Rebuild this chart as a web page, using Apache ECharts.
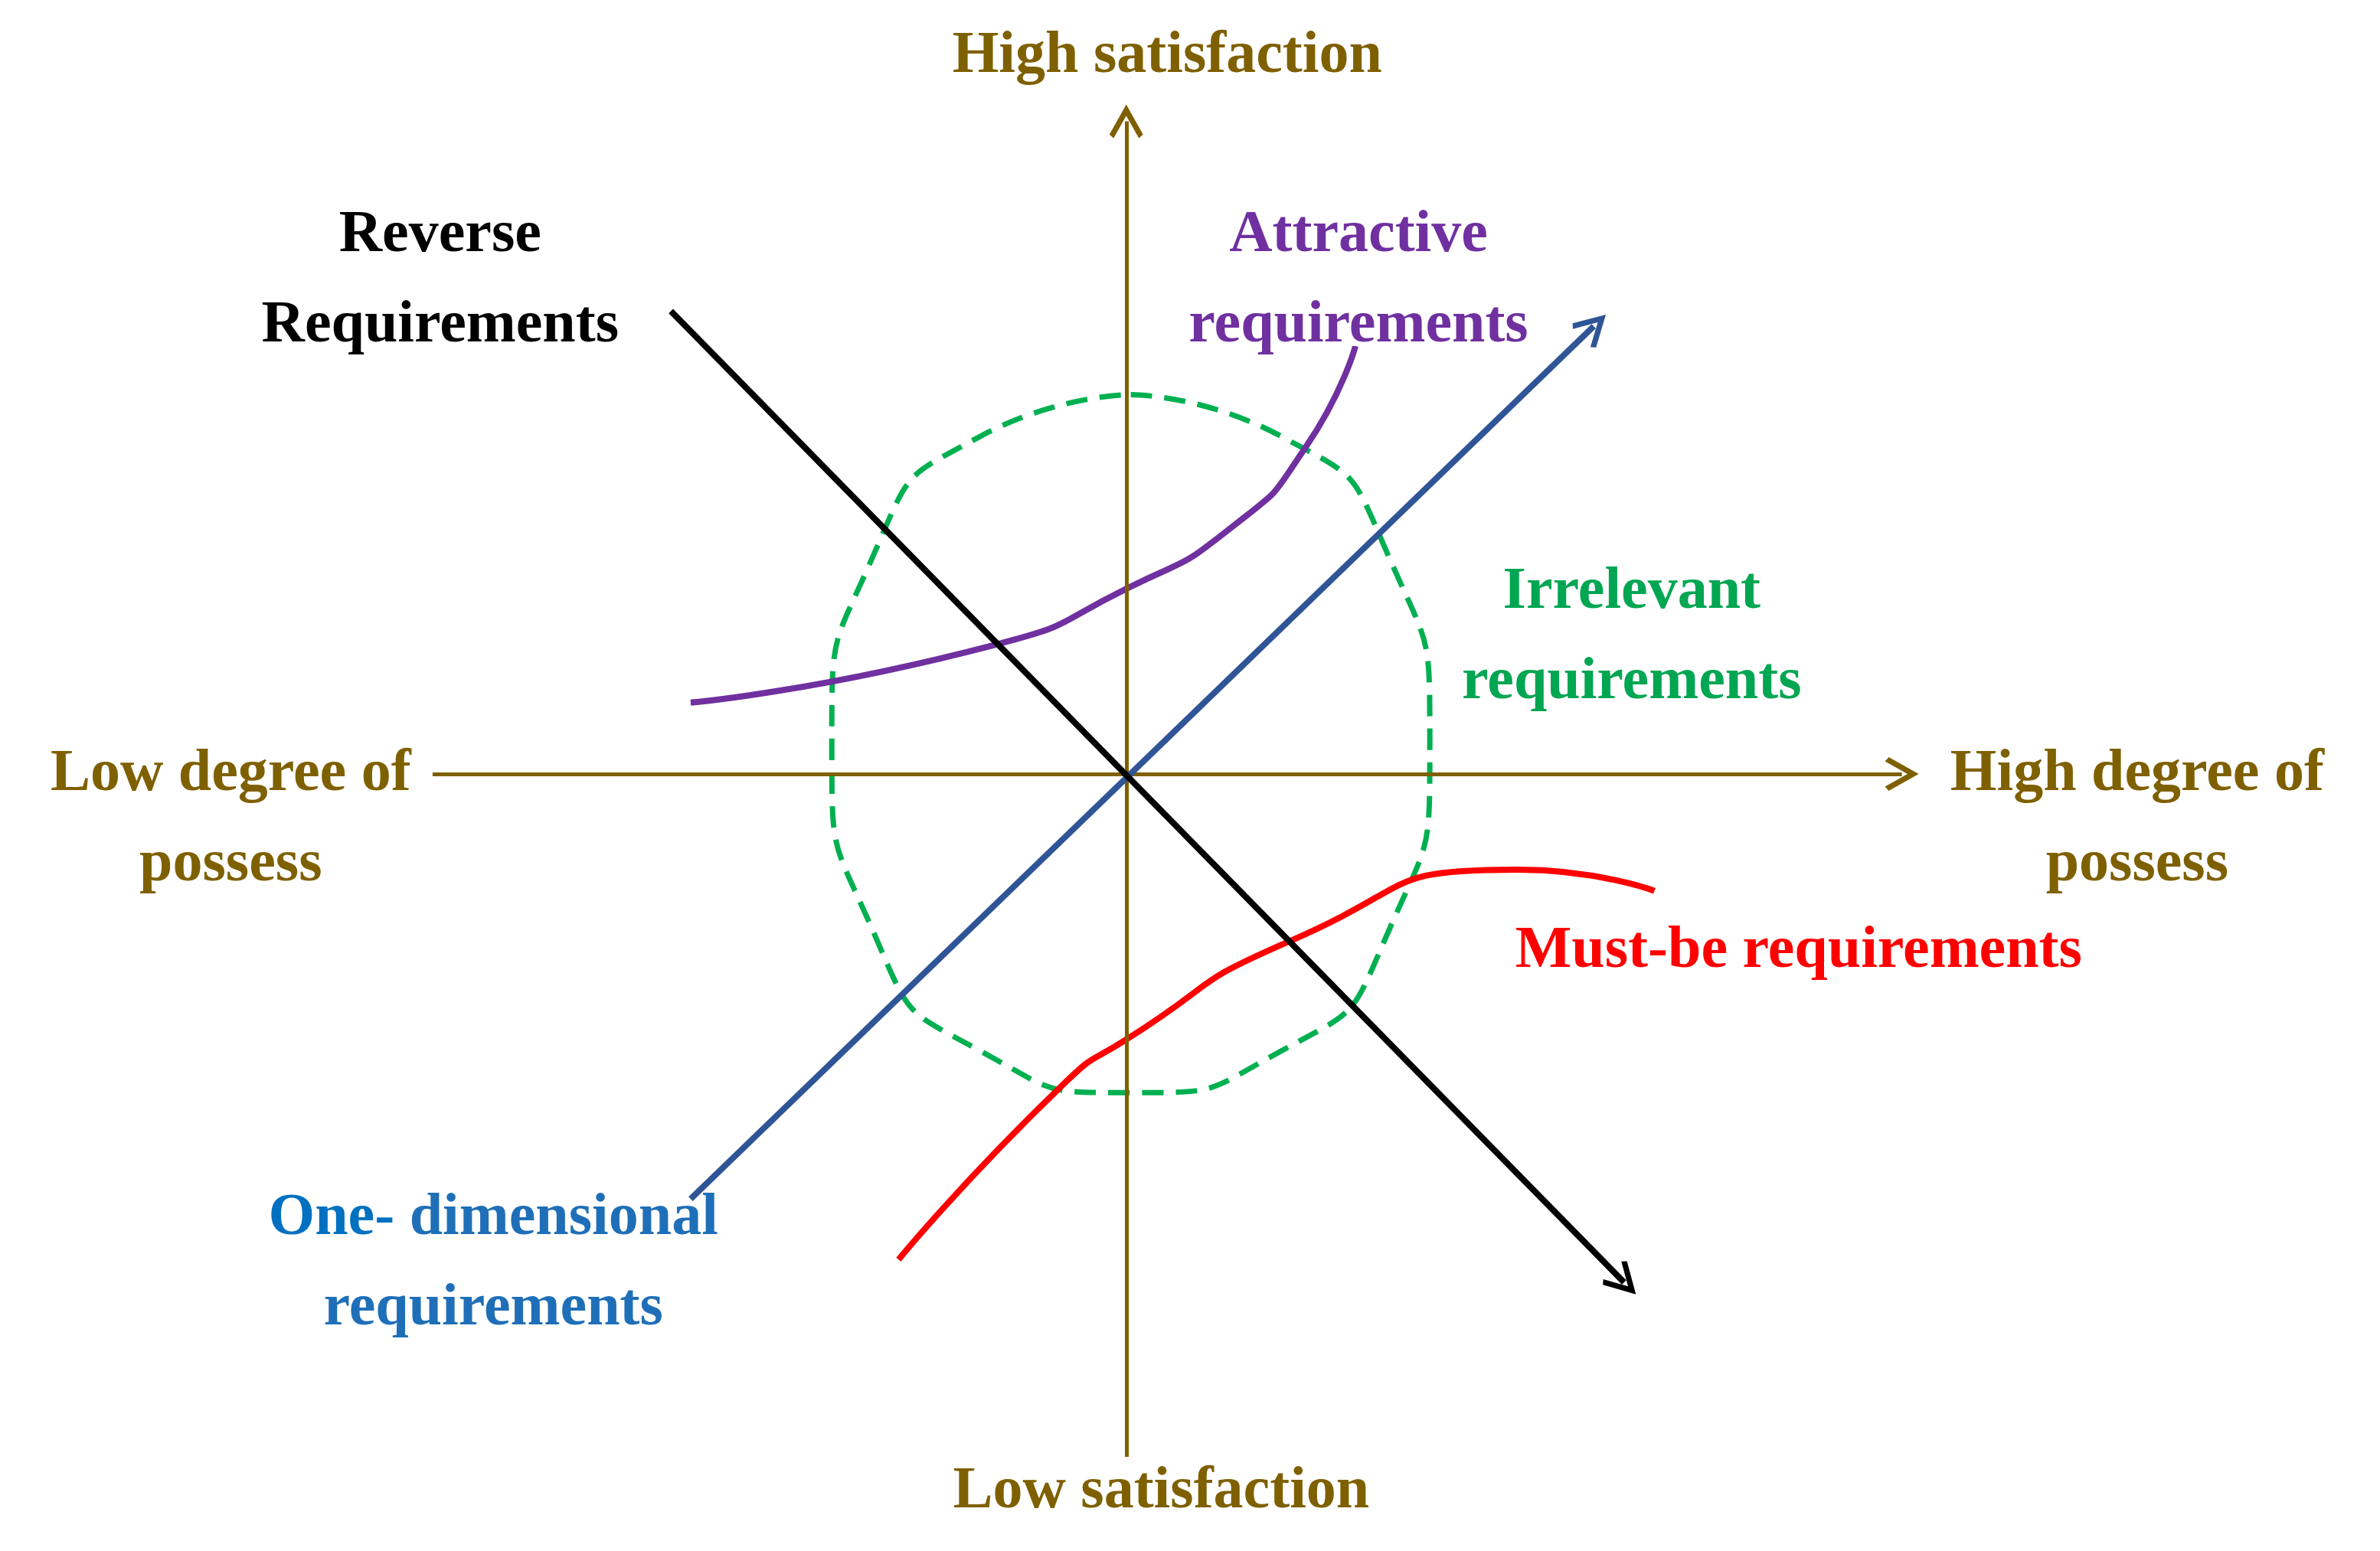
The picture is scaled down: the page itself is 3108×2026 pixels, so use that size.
<!DOCTYPE html>
<html><head><meta charset="utf-8">
<script src="https://cdn.jsdelivr.net/npm/echarts@6/dist/echarts.min.js"></script>
<style>html,body{margin:0;padding:0;background:#fff}#c{width:3108px;height:2026px}</style>
</head><body><div id="c"></div>
<script>
// coordinates in chart units (origin at axes crossing)
const hAxis = [[-457, 0], [511, 0]];
const vAxis = [[0, -450], [0, 430]];
const oneDim = [[-287, -280], [308, 295]];
const reverse = [[-300, 305], [328, -335]];
const attractive = [[-287, 47], [-87, 85], [0, 122], [70, 163], [118, 215], [151, 282]];
const mustBe = [[-150, -320], [-42, -205], [0, -175], [108, -110], [258, -63], [348, -77]];
const irrelevant = [[3, 250], [103, 222], [170, 150], [200, 20], [170, -110], [103, -182], [3, -210], [-97, -182], [-164, -110], [-194, 20], [-164, 150], [-97, 222], [3, 250]];
const labels = [
  {name: 'High satisfaction', pos: [27, 473], color: '#7F6000'},
  {name: 'Low satisfaction', pos: [23, -473], color: '#7F6000'},
  {name: 'Low degree of\npossess', pos: [-590, -30], color: '#7F6000'},
  {name: 'High degree of\npossess', pos: [666, -30], color: '#7F6000'},
  {name: 'Reverse\nRequirements', pos: [-452, 325], color: '#000000'},
  {name: 'Attractive\nrequirements', pos: [153, 325], color: '#7030A0'},
  {name: 'Irrelevant\nrequirements', pos: [333, 90], color: '#00A651'},
  {name: 'Must-be requirements', pos: [443, -117], color: '#FF0000'},
  {name: '{a|One-} dimensional\nrequirements', pos: [-417, -323], color: '#1F6FB8'}
];
const chev = 'path://M0,0 L-12,16 L-9,18 L0,6 L9,18 L12,16 Z';
const chart = echarts.init(document.getElementById('c'));
function arrowLine(pts, color, w) {
  return {type: 'lines', coordinateSystem: 'cartesian2d', polyline: false,
    symbol: ['none', chev], symbolSize: 44, z: 3,
    lineStyle: {color: color, width: w, opacity: 1},
    data: [{coords: pts}]};
}
function curve(pts, color, w, dashed) {
  return {type: 'line', data: pts, smooth: 0.6, showSymbol: false, z: 2,
    lineStyle: {color: color, width: w, type: dashed ? [28, 16] : 'solid'}};
}
chart.setOption({
  animation: false,
  grid: {left: 0, right: 0, top: 0, bottom: 0},
  xAxis: {type: 'value', min: -742, max: 826, show: false},
  yAxis: {type: 'value', min: -512, max: 510, show: false},
  series: [
    arrowLine(hAxis, '#7F6000', 5),
    arrowLine(vAxis, '#7F6000', 5),
    curve(irrelevant, '#00B050', 7, true),
    curve(attractive, '#7030A0', 8),
    curve(mustBe, '#FF0000', 8),
    arrowLine(oneDim, '#2F5597', 8),
    arrowLine(reverse, '#000000', 8),
    {type: 'scatter', symbolSize: 0, z: 5, itemStyle: {opacity: 0},
      data: labels.map(l => ({value: l.pos, label: {color: l.color}, name: l.name})),
      label: {show: true, position: 'inside', formatter: p => p.name, opacity: 1,
        textBorderWidth: 0, textShadowBlur: 0,
        fontFamily: 'Liberation Serif', fontWeight: 'bold', fontSize: 78, lineHeight: 118,
        align: 'center', verticalAlign: 'middle',
        rich: {a: {color: '#0070C0', fontFamily: 'Liberation Serif', fontWeight: 'bold', fontSize: 78, textBorderWidth: 0}}}}
  ]
});
</script></body></html>
